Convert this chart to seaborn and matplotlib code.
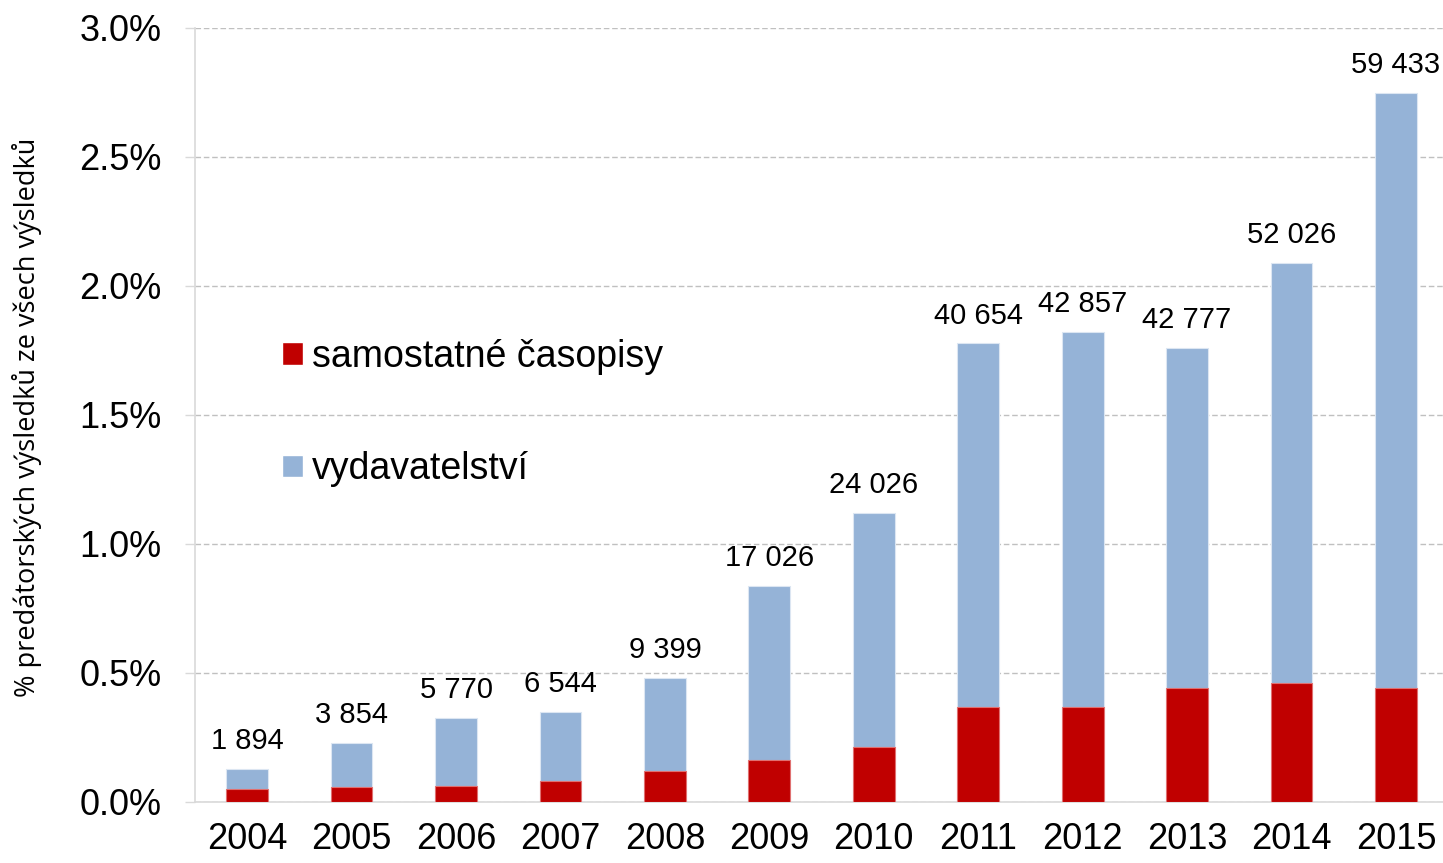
import pandas as pd
import matplotlib
matplotlib.use("Agg")
import matplotlib.pyplot as plt
import seaborn as sns
from matplotlib.ticker import FixedLocator, FuncFormatter
from matplotlib.patches import Patch

# data
years = ["2004", "2005", "2006", "2007", "2008", "2009",
         "2010", "2011", "2012", "2013", "2014", "2015"]
total_pct = [0.126, 0.227, 0.325, 0.349, 0.481, 0.836,
             1.119, 1.777, 1.820, 1.758, 2.089, 2.749]
journals_pct = [0.049, 0.057, 0.062, 0.081, 0.120, 0.162,
                0.212, 0.367, 0.367, 0.442, 0.461, 0.442]
counts = ["1 894", "3 854", "5 770", "6 544", "9 399", "17 026",
          "24 026", "40 654", "42 857", "42 777", "52 026", "59 433"]

RED = "#C00000"
BLUE = "#95B3D7"

df = pd.DataFrame({"year": years, "total": total_pct,
                   "journals": journals_pct, "count": counts})

sns.set_style("white")
plt.rcParams["font.family"] = ["Liberation Sans", "DejaVu Sans"]
plt.rcParams["text.color"] = "black"
plt.rcParams["xtick.labelcolor"] = "black"
plt.rcParams["ytick.labelcolor"] = "black"

fig = plt.figure(figsize=(14.43, 8.63), dpi=100)
ax = fig.add_axes([0.1351, 0.071, 0.8649, 0.8966])

# blue (whole bar = publishers + journals), red overlay for journals
sns.barplot(data=df, x="year", y="total", color=BLUE, width=0.4,
            edgecolor="#dce6f2", linewidth=0.8, saturation=1, ax=ax, zorder=3)
sns.barplot(data=df, x="year", y="journals", color=RED, width=0.4,
            edgecolor="#e07070", linewidth=0.8, saturation=1, ax=ax, zorder=4)

for i, (t, c) in enumerate(zip(df["total"], df["count"])):
    ax.annotate(c, (i, t), xytext=(0, 10), textcoords="offset points",
                ha="center", va="bottom", fontsize=21, color="black", zorder=5)

ax.set_xlim(-0.5, 11.45)
ax.set_ylim(0, 3.0)
ax.set_yticks([0, 0.5, 1.0, 1.5, 2.0, 2.5, 3.0])
ax.yaxis.set_major_formatter(FuncFormatter(lambda v, p: f"{v:.1f}%"))
ax.grid(axis="y", color="#c0c0c0", linestyle=(0, (4, 2)), linewidth=1, zorder=0)
ax.grid(axis="x", visible=False)

# category separators on the x axis
ax.xaxis.set_minor_locator(FixedLocator([k - 0.5 for k in range(len(years) + 1)]))
ax.tick_params(axis="x", which="minor", length=8, width=1, color="#d9d9d9", direction="out")
ax.tick_params(axis="x", which="major", length=0, pad=14.5, labelsize=26)
ax.tick_params(axis="y", which="major", length=7, width=1, color="#d9d9d9",
               direction="out", pad=17, labelsize=26)
ax.tick_params(left=True, bottom=True)

for side in ["top", "right"]:
    ax.spines[side].set_visible(False)
for side in ["left", "bottom"]:
    ax.spines[side].set_color("#d9d9d9")
    ax.spines[side].set_linewidth(1.2)

ax.set_xlabel("")
ax.set_ylabel("")
fig.text(0.019, 0.517, "% predátorských výsledků ze všech výsledků",
         rotation=90, ha="center", va="center", fontsize=19.5,
         family=["Open Sans", "DejaVu Sans"])

handles = [Patch(facecolor=RED, label="samostatné časopisy"),
           Patch(facecolor=BLUE, label="vydavatelství")]
ax.legend(handles=handles, loc="upper left", bbox_to_anchor=(0.058, 0.618),
          frameon=False, fontsize=27, handlelength=0.55, handleheight=0.55,
          handletextpad=0.25, labelspacing=2.05, borderaxespad=0)

fig.savefig("out.png", dpi=100)
